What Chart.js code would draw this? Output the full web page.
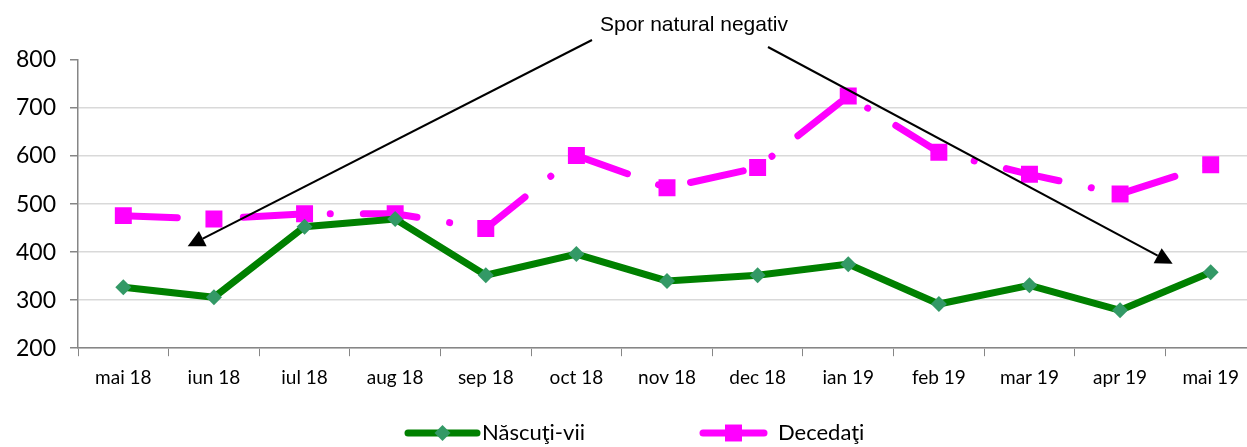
<!DOCTYPE html>
<html><head><meta charset="utf-8">
<script src="https://cdn.jsdelivr.net/npm/chart.js@4.4.1/dist/chart.umd.min.js"></script>
<style>html,body{margin:0;padding:0;background:#fff;overflow:hidden;}#wrap{width:1247px;height:447px;overflow:hidden;}</style>
</head><body><div id="wrap"><canvas id="c" width="1257" height="447"></canvas></div>
<script>
const categories = ['mai 18','iun 18','iul 18','aug 18','sep 18','oct 18','nov 18','dec 18','ian 19','feb 19','mar 19','apr 19','mai 19'];
const nascutiVii = [327, 306, 453, 469, 352, 396, 340, 352, 375, 292, 331, 279, 358];
const decedati   = [476, 469, 480, 480, 449, 601, 534, 576, 725, 608, 562, 521, 582];
const yTicks = [200, 300, 400, 500, 600, 700, 800];
const seriesNames = ['Născuţi-vii', 'Decedaţi'];
const annotationText = 'Spor natural negativ';
// arrow tips in data units (category index, value)
const arrowTips = [[0.71, 412], [11.58, 376]];

const annotationPlugin = {
  id: 'annot',
  afterDraw(chart) {
    const ctx = chart.ctx, xs = chart.scales.x, ys = chart.scales.y;
    ctx.save();
    ctx.font = '21px "Liberation Sans", Arial, sans-serif';
    ctx.fillStyle = '#000';
    ctx.textBaseline = 'middle';
    ctx.textAlign = 'left';
    ctx.fillText(annotationText, 600, 25);
    const starts = [[592, 40], [768, 47]];
    ctx.strokeStyle = '#000'; ctx.fillStyle = '#000'; ctx.lineWidth = 2;
    arrowTips.forEach((t, i) => {
      const tx = xs.getPixelForValue(t[0]), ty = ys.getPixelForValue(t[1]);
      const [sx, sy] = starts[i];
      const ang = Math.atan2(ty - sy, tx - sx);
      const L = 17, W = 8.5;
      const bx = tx - L * Math.cos(ang), by = ty - L * Math.sin(ang);
      ctx.beginPath(); ctx.moveTo(sx, sy); ctx.lineTo(bx, by); ctx.stroke();
      ctx.beginPath();
      ctx.moveTo(tx, ty);
      ctx.lineTo(bx + W * Math.sin(ang), by - W * Math.cos(ang));
      ctx.lineTo(bx - W * Math.sin(ang), by + W * Math.cos(ang));
      ctx.closePath(); ctx.fill();
    });
    // legend
    const items = [
      {x0: 408, x1: 477, tx: 482, ds: chart.data.datasets[0]},
      {x0: 703, x1: 764, tx: 778, ds: chart.data.datasets[1]}
    ];
    const ly = 433;
    items.forEach(it => {
      const ds = it.ds;
      ctx.strokeStyle = ds.borderColor; ctx.lineWidth = ds.borderWidth; ctx.lineCap = 'round';
      ctx.setLineDash([]);
      ctx.beginPath(); ctx.moveTo(it.x0, ly); ctx.lineTo(it.x1, ly); ctx.stroke();
      ctx.fillStyle = ds.pointBackgroundColor;
      ctx.strokeStyle = ds.pointBorderColor;
      Chart.helpers.drawPoint(ctx, {pointStyle: ds.pointStyle, radius: ds.pointRadius, rotation: 0, borderWidth: 0}, (it.x0 + it.x1) / 2, ly);
      ctx.font = '22px Lato, "Open Sans", sans-serif';
      ctx.fillStyle = '#000';
      ctx.textBaseline = 'middle';
      ctx.textAlign = 'left';
      ctx.fillText(ds.label, it.tx, ly);
    });
    ctx.restore();
  }
};

new Chart(document.getElementById('c'), {
  type: 'line',
  data: {
    labels: categories,
    datasets: [
      {
        label: seriesNames[0], data: nascutiVii,
        borderColor: '#008000', borderWidth: 7,
        pointStyle: 'rectRot', pointRadius: 8, pointHoverRadius: 8,
        pointBackgroundColor: '#339966', pointBorderColor: '#339966', pointBorderWidth: 0,
        tension: 0, order: 1
      },
      {
        label: seriesNames[1], data: decedati,
        borderColor: '#FF00FF', borderWidth: 7,
        borderDash: [54, 33, 0.1, 33], borderCapStyle: 'round',
        pointStyle: 'rect', pointRadius: 12, pointHoverRadius: 12,
        pointBackgroundColor: '#FF00FF', pointBorderColor: '#FF00FF', pointBorderWidth: 0,
        tension: 0, order: 2
      }
    ]
  },
  options: {
    responsive: false, animation: false,
    events: [],
    layout: { autoPadding: false, padding: { top: 60, right: 1, left: 2, bottom: 48 } },
    plugins: { legend: { display: false }, tooltip: { enabled: false } },
    scales: {
      x: {
        offset: true,
        afterFit(axis) { axis.paddingLeft = 0; axis.paddingRight = 0; },
        grid: { offset: true, drawOnChartArea: false, drawTicks: true, tickLength: 8, color: '#868686', tickColor: '#868686' },
        border: { color: '#868686', width: 1.5 },
        ticks: { color: '#000', font: { family: 'Lato', size: 19 }, padding: 10, maxRotation: 0, autoSkip: false }
      },
      y: {
        min: 200, max: 800,
        afterBuildTicks(axis) { axis.ticks = yTicks.map(v => ({value: v})); },
        grid: { color: ctx => (ctx.tick && ctx.tick.value === 800) ? 'rgba(0,0,0,0)' : '#d9d9d9', lineWidth: 1.5, tickLength: 8, tickColor: '#868686' },
        border: { color: '#868686', width: 1.5 },
        ticks: { color: '#000', font: { family: 'Lato', size: 23 }, padding: 14, stepSize: 100 }
      }
    }
  },
  plugins: [annotationPlugin]
});
</script></body></html>
